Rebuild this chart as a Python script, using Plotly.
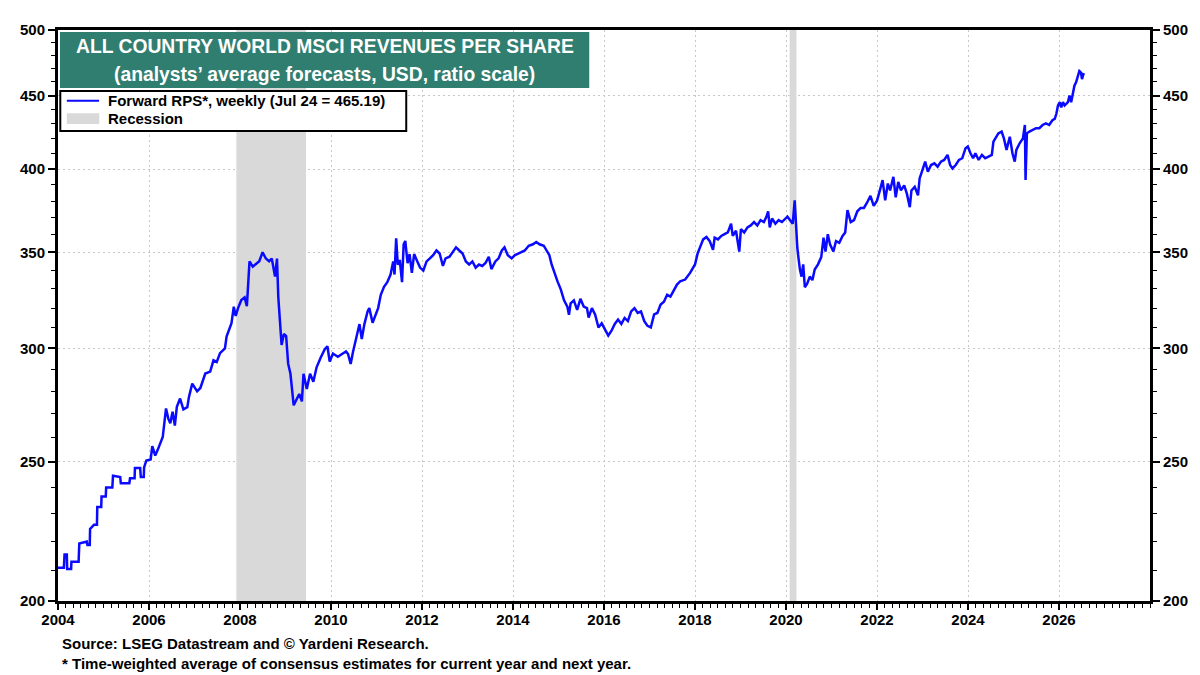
import plotly.graph_objects as go
import numpy as np

# forward revenues per share (decimal year, USD)
years = [
    2004.000, 2004.129, 2004.144, 2004.194, 2004.201, 2004.288, 2004.295, 2004.453, 2004.468, 2004.633,
    2004.647, 2004.698, 2004.705, 2004.791, 2004.856, 2004.863, 2004.950, 2004.957, 2005.050, 2005.058,
    2005.194, 2005.209, 2005.367, 2005.381, 2005.568, 2005.583, 2005.683, 2005.691, 2005.806, 2005.820,
    2005.885, 2005.892, 2005.942, 2006.036, 2006.072, 2006.137, 2006.194, 2006.302, 2006.374, 2006.424,
    2006.468, 2006.518, 2006.568, 2006.612, 2006.683, 2006.755, 2006.842, 2006.878, 2006.950, 2007.000,
    2007.058, 2007.129, 2007.237, 2007.345, 2007.417, 2007.489, 2007.561, 2007.669, 2007.705, 2007.813,
    2007.863, 2007.906, 2007.957, 2008.029, 2008.101, 2008.151, 2008.209, 2008.281, 2008.353, 2008.424,
    2008.496, 2008.568, 2008.640, 2008.698, 2008.770, 2008.813, 2008.842, 2008.871, 2008.914, 2008.964,
    2009.014, 2009.058, 2009.108, 2009.180, 2009.252, 2009.302, 2009.360, 2009.396, 2009.468, 2009.540,
    2009.612, 2009.683, 2009.777, 2009.863, 2009.921, 2009.971, 2010.043, 2010.151, 2010.259, 2010.331,
    2010.374, 2010.432, 2010.482, 2010.576, 2010.626, 2010.676, 2010.734, 2010.806, 2010.842, 2010.914,
    2010.986, 2011.036, 2011.094, 2011.165, 2011.237, 2011.309, 2011.367, 2011.396, 2011.432, 2011.468,
    2011.511, 2011.561, 2011.597, 2011.633, 2011.683, 2011.727, 2011.777, 2011.827, 2011.885, 2011.957,
    2012.029, 2012.101, 2012.173, 2012.245, 2012.317, 2012.388, 2012.460, 2012.518, 2012.604, 2012.676,
    2012.748, 2012.820, 2012.892, 2012.964, 2013.036, 2013.108, 2013.180, 2013.252, 2013.324, 2013.396,
    2013.468, 2013.525, 2013.612, 2013.683, 2013.755, 2013.813, 2013.885, 2013.971, 2014.043, 2014.115,
    2014.187, 2014.259, 2014.345, 2014.439, 2014.511, 2014.583, 2014.676, 2014.748, 2014.799, 2014.849,
    2014.906, 2014.978, 2015.050, 2015.122, 2015.194, 2015.230, 2015.266, 2015.338, 2015.410, 2015.482,
    2015.554, 2015.626, 2015.662, 2015.734, 2015.806, 2015.878, 2015.950, 2016.022, 2016.094, 2016.165,
    2016.237, 2016.309, 2016.381, 2016.453, 2016.525, 2016.597, 2016.669, 2016.741, 2016.813, 2016.885,
    2016.957, 2017.029, 2017.101, 2017.173, 2017.245, 2017.317, 2017.388, 2017.460, 2017.532, 2017.604,
    2017.676, 2017.784, 2017.892, 2018.000, 2018.058, 2018.108, 2018.180, 2018.252, 2018.324, 2018.396,
    2018.432, 2018.505, 2018.577, 2018.649, 2018.721, 2018.793, 2018.829, 2018.901, 2018.973, 2019.009,
    2019.081, 2019.153, 2019.225, 2019.297, 2019.369, 2019.441, 2019.514, 2019.571, 2019.607, 2019.643,
    2019.694, 2019.766, 2019.838, 2019.910, 2019.982, 2020.032, 2020.090, 2020.148, 2020.191, 2020.220,
    2020.249, 2020.277, 2020.306, 2020.342, 2020.378, 2020.414, 2020.465, 2020.523, 2020.580, 2020.631,
    2020.703, 2020.775, 2020.825, 2020.868, 2020.919, 2020.969, 2021.041, 2021.099, 2021.171, 2021.243,
    2021.301, 2021.351, 2021.423, 2021.495, 2021.568, 2021.640, 2021.712, 2021.784, 2021.856, 2021.928,
    2022.000, 2022.072, 2022.123, 2022.180, 2022.238, 2022.288, 2022.360, 2022.411, 2022.468, 2022.526,
    2022.598, 2022.656, 2022.721, 2022.757, 2022.829, 2022.901, 2022.937, 2022.987, 2023.059, 2023.117,
    2023.189, 2023.261, 2023.333, 2023.405, 2023.477, 2023.550, 2023.607, 2023.658, 2023.730, 2023.802,
    2023.874, 2023.946, 2023.996, 2024.054, 2024.112, 2024.162, 2024.234, 2024.306, 2024.378, 2024.450,
    2024.523, 2024.559, 2024.616, 2024.667, 2024.739, 2024.789, 2024.847, 2024.919, 2024.977, 2025.027,
    2025.063, 2025.135, 2025.207, 2025.250, 2025.265, 2025.294, 2025.351, 2025.423, 2025.495, 2025.568,
    2025.640, 2025.712, 2025.784, 2025.856, 2025.906, 2025.942, 2025.978, 2026.014, 2026.050, 2026.086,
    2026.123, 2026.159, 2026.195, 2026.231, 2026.267, 2026.303, 2026.339, 2026.375, 2026.411, 2026.447,
    2026.483, 2026.505, 2026.534, 2026.562,
]
rps = [
    211.0, 211.0, 215.5, 215.5, 210.5, 210.5, 213.0, 213.0, 219.3, 220.0,
    218.8, 218.8, 224.5, 226.0, 226.0, 232.6, 232.6, 236.5, 236.5, 240.0,
    240.0, 244.5, 244.0, 241.6, 241.6, 243.5, 243.5, 247.6, 247.6, 244.0,
    244.0, 247.8, 250.6, 251.0, 256.4, 252.6, 255.0, 260.2, 272.4, 268.0,
    266.0, 271.0, 265.0, 273.1, 276.8, 272.0, 273.0, 277.5, 283.5, 282.0,
    280.0, 281.5, 288.1, 289.0, 294.3, 293.5, 297.7, 300.0, 305.7, 312.3,
    320.7, 316.0, 320.0, 324.2, 325.5, 321.0, 344.9, 342.0, 343.5, 345.0,
    350.0, 346.5, 345.0, 346.5, 336.6, 346.5, 325.6, 314.0, 301.6, 307.0,
    306.0, 292.7, 288.1, 273.8, 276.5, 278.8, 275.5, 288.0, 281.0, 288.0,
    284.3, 291.0, 295.7, 299.6, 301.0, 293.7, 297.5, 296.0, 297.5, 298.5,
    297.3, 292.6, 298.1, 306.9, 311.9, 304.5, 311.9, 318.4, 320.0, 312.6,
    316.7, 320.0, 326.9, 331.1, 333.6, 337.7, 344.9, 337.7, 357.9, 343.1,
    345.7, 333.6, 354.5, 356.4, 343.9, 349.0, 338.6, 349.0, 345.6, 341.5,
    339.9, 344.9, 346.6, 348.4, 351.0, 349.3, 342.4, 346.6, 347.5, 350.1,
    352.8, 351.0, 349.3, 344.9, 343.2, 344.9, 341.5, 343.2, 342.4, 344.0,
    347.5, 340.7, 344.9, 346.6, 351.0, 352.8, 348.4, 346.6, 348.4, 349.3,
    350.1, 351.0, 353.7, 354.5, 355.8, 354.5, 353.7, 350.1, 348.4, 343.2,
    338.9, 334.0, 329.8, 324.0, 320.8, 316.6, 322.4, 324.0, 319.1, 324.8,
    320.8, 320.0, 315.2, 320.0, 316.6, 310.2, 312.3, 309.4, 306.2, 308.6,
    312.0, 314.2, 312.0, 315.0, 313.4, 318.3, 320.0, 317.5, 318.3, 313.4,
    311.0, 310.2, 316.8, 317.5, 321.8, 323.3, 326.9, 326.0, 329.1, 332.3,
    334.1, 335.0, 338.6, 343.2, 349.4, 352.4, 357.3, 358.7, 356.3, 351.4,
    358.3, 357.3, 359.3, 360.3, 361.3, 366.4, 359.3, 362.3, 350.4, 363.3,
    361.3, 364.3, 365.4, 367.4, 365.4, 368.5, 367.4, 370.6, 373.8, 364.3,
    369.5, 366.4, 368.5, 367.4, 369.5, 370.6, 368.5, 366.4, 380.4, 362.3,
    352.4, 346.3, 340.4, 336.6, 343.3, 330.9, 332.8, 336.6, 334.7, 340.4,
    343.3, 347.3, 358.3, 350.4, 360.3, 354.3, 350.4, 356.3, 355.3, 359.3,
    361.3, 374.5, 367.4, 368.5, 373.8, 375.8, 375.8, 379.1, 383.2, 377.0,
    380.2, 387.5, 393.0, 380.4, 390.8, 386.5, 395.0, 382.3, 391.8, 386.5,
    389.7, 384.5, 376.3, 386.5, 388.7, 383.5, 394.0, 398.3, 404.8, 398.3,
    402.6, 403.7, 401.5, 404.8, 405.9, 409.2, 402.6, 400.4, 402.6, 405.9,
    407.0, 413.6, 414.7, 410.3, 407.0, 410.3, 405.9, 409.2, 407.0, 408.1,
    409.2, 418.0, 421.3, 423.6, 424.8, 420.2, 412.5, 421.3, 410.3, 404.8,
    412.5, 416.9, 420.2, 429.3, 393.0, 423.6, 424.8, 425.9, 427.1, 427.1,
    429.3, 430.4, 429.3, 432.6, 433.5, 437.1, 443.0, 445.3, 441.7, 445.3,
    443.0, 444.1, 445.3, 450.0, 445.3, 451.2, 457.2, 459.7, 464.5, 468.1,
    466.9, 462.1, 465.7, 465.19,
]

# recessions (decimal year)
rec_start = [2007.92, 2020.08]
rec_end = [2009.45, 2020.23]

x_ticks = list(range(2004, 2027, 2))
y_ticks = [200, 250, 300, 350, 400, 450, 500]
y_minor = list(range(200, 501, 10))

FONT = "Liberation Sans, Arial, sans-serif"
BLUE = "#0a0aff"
GREY = "#d9d9d9"
GRID = "#c8c8c8"
y_lo, y_hi = 200, 500

rec_x, rec_y = [], []
for s, e in zip(rec_start, rec_end):
    rec_x += [s, s, e, e, s, None]
    rec_y += [y_lo, y_hi, y_hi, y_lo, y_lo, None]

fig = go.Figure()
fig.add_trace(go.Scatter(
    x=rec_x, y=rec_y, fill="toself", fillcolor=GREY,
    line=dict(width=0), mode="lines", name="Recession", hoverinfo="skip"))
fig.add_trace(go.Scatter(
    x=years, y=rps, mode="lines", line=dict(color=BLUE, width=2.5),
    name="Forward RPS*"))
# same series on the right axis so that the axis gets drawn
fig.add_trace(go.Scatter(
    x=years, y=rps, mode="lines", line=dict(width=0), opacity=0,
    yaxis="y2", hoverinfo="skip"))

tick_font = dict(family=FONT, size=15, color="black", weight="bold")

yax = dict(
    type="log", range=[np.log10(y_lo), np.log10(y_hi)],
    tickmode="array", tickvals=y_ticks, ticktext=[str(v) for v in y_ticks],
    ticks="outside", ticklen=7, tickwidth=1.5, tickcolor="black",
    showline=True, linewidth=3, linecolor="black",
    tickfont=tick_font,
    minor=dict(tickmode="array", tickvals=y_minor, ticks="outside",
               ticklen=4, tickwidth=1, tickcolor="black", showgrid=False),
    zeroline=False,
)

# page has an 8px body margin, so the figure is sized to fit the window
fig.update_layout(
    width=1192, height=667,
    margin=dict(l=37, r=45, t=22, b=74),
    plot_bgcolor="white", paper_bgcolor="white",
    font=dict(family=FONT, color="black"),
    showlegend=False,
    xaxis=dict(
        range=[2004, 2028], tickmode="array", tickvals=x_ticks,
        ticktext=[str(v) for v in x_ticks],
        ticks="outside", ticklen=6, tickwidth=1.5, tickcolor="black",
        ticklabelstandoff=-3,
        showline=True, linewidth=3, linecolor="black", mirror=True,
        showgrid=True, gridcolor=GRID, griddash="2px,3px", gridwidth=1,
        tickfont=tick_font,
        minor=dict(tick0=2004, dtick=1 / 6, ticks="outside", ticklen=4,
                   tickwidth=1, tickcolor="black", showgrid=False),
        zeroline=False,
    ),
    yaxis=dict(**yax, side="left", showgrid=True, gridcolor=GRID,
               griddash="2px,3px", gridwidth=1),
    yaxis2=dict(**yax, side="right", overlaying="y", showgrid=False),
)

# title box
fig.add_shape(type="rect", xref="paper", yref="paper",
              x0=0.0018, x1=0.4865, y0=0.8984, y1=0.9965,
              fillcolor="#2f7e6f", line=dict(width=0), layer="above")
fig.add_annotation(xref="paper", yref="paper", x=0.2441, y=0.9708,
                   text="ALL COUNTRY WORLD MSCI REVENUES PER SHARE",
                   showarrow=False, xanchor="center", yanchor="middle",
                   font=dict(family=FONT, size=19.3, color="white", weight="bold"))
fig.add_annotation(xref="paper", yref="paper", x=0.2441, y=0.9224,
                   text="(analysts\u2019 average forecasts, USD, ratio scale)",
                   showarrow=False, xanchor="center", yanchor="middle",
                   font=dict(family=FONT, size=19.3, color="white", weight="bold"))

# legend box
fig.add_shape(type="rect", xref="paper", yref="paper",
              x0=0.0021, x1=0.3189, y0=0.8231, y1=0.8932,
              fillcolor="white", line=dict(color="black", width=2), layer="above")
fig.add_shape(type="line", xref="paper", yref="paper",
              x0=0.0081, x1=0.0376, y0=0.8762, y1=0.8762,
              line=dict(color=BLUE, width=2), layer="above")
fig.add_shape(type="rect", xref="paper", yref="paper",
              x0=0.0081, x1=0.0378, y0=0.8354, y1=0.8541,
              fillcolor=GREY, line=dict(width=0), layer="above")
fig.add_annotation(xref="paper", yref="paper", x=0.0435, y=0.8762,
                   text="Forward RPS*, weekly (Jul 24 = 465.19)",
                   showarrow=False, xanchor="left", yanchor="middle",
                   font=dict(family=FONT, size=15, color="black", weight="bold"))
fig.add_annotation(xref="paper", yref="paper", x=0.0435, y=0.8454,
                   text="Recession",
                   showarrow=False, xanchor="left", yanchor="middle",
                   font=dict(family=FONT, size=15, color="black", weight="bold"))

# footnotes
fig.add_annotation(xref="paper", yref="paper", x=0.0018, y=-0.0736,
                   text="Source: LSEG Datastream and \u00a9 Yardeni Research.",
                   showarrow=False, xanchor="left", yanchor="middle",
                   font=dict(family=FONT, size=15, color="black", weight="bold"))
fig.add_annotation(xref="paper", yref="paper", x=0.0018, y=-0.1086,
                   text="* Time-weighted average of consensus estimates for current year and next year.",
                   showarrow=False, xanchor="left", yanchor="middle",
                   font=dict(family=FONT, size=15, color="black", weight="bold"))

fig.write_html("out.html")
